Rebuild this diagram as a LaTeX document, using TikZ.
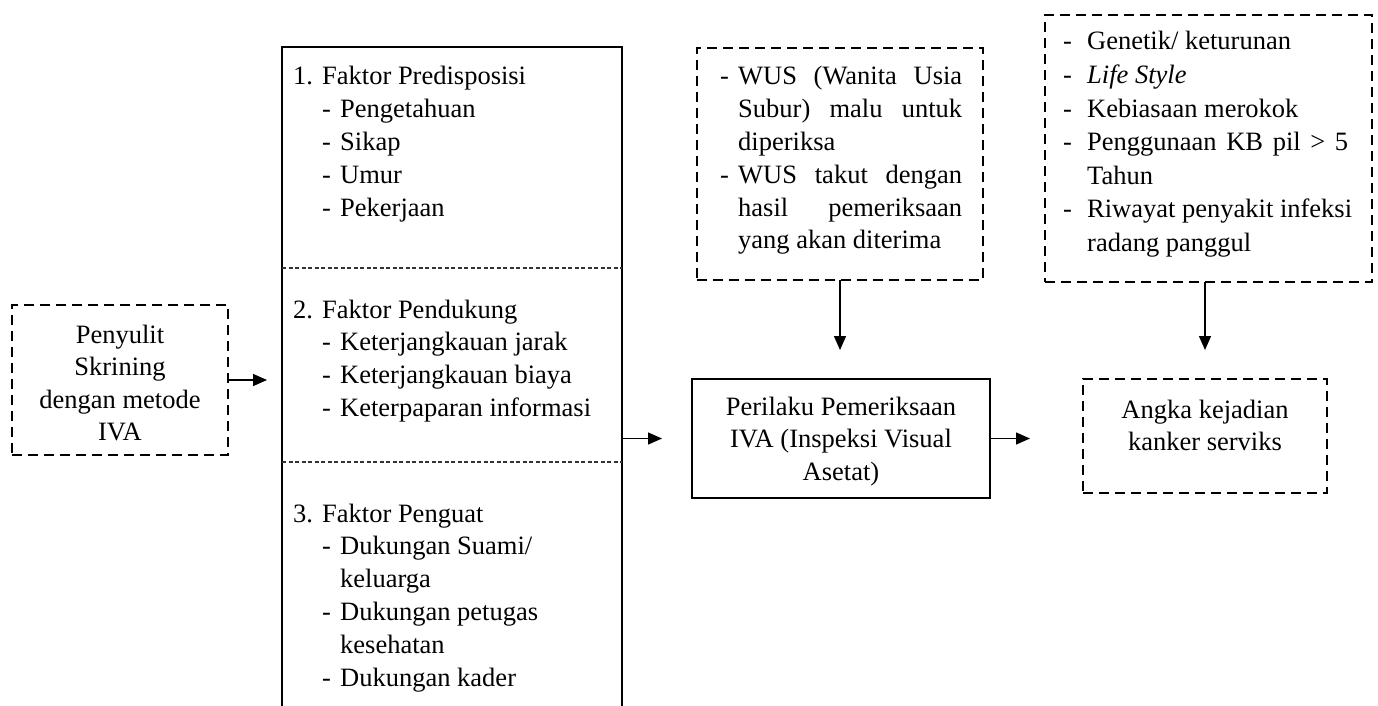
\documentclass[tikz,border=0pt]{standalone}
\usepackage{fontspec}
\setmainfont{Liberation Serif}
\usetikzlibrary{arrows.meta}
\newcommand\dgfont{\fontsize{26.5}{32.8}\selectfont}
\newcommand\dgfontb{\fontsize{26.5}{33.6}\selectfont}
\newcommand\dgfontc{\fontsize{26.5}{32.5}\selectfont}
\begin{document}
\begin{tikzpicture}[x=1pt,y=-1pt,
 dbox/.style={draw, line width=2.9pt, dash pattern=on 10pt off 6pt, inner sep=0pt, outer sep=0pt, anchor=north west},
 sbox/.style={draw, line width=2.9pt, inner sep=0pt, outer sep=0pt, anchor=north west},
 txt/.style={inner sep=0pt, anchor=base west, font=\dgfont},
 ctxt/.style={inner sep=0pt, anchor=base, font=\dgfontc},
 arr/.style={line width=1.4pt, -{Triangle[length=14pt,width=12pt]}},
 divider/.style={line width=1.1pt, dash pattern=on 4pt off 2.5pt, draw=black!80}]
\path[use as bounding box, fill=white] (0,0) rectangle (1378,706);

% boxes
\node[dbox, minimum width=216pt, minimum height=150pt] (lb) at (12,305) {};
\node[sbox, minimum width=340pt, minimum height=690pt] (big) at (282,47) {};
\node[dbox, minimum width=286pt, minimum height=232pt] (wus) at (697,48) {};
\node[sbox, minimum width=298pt, minimum height=119pt] (pr) at (692,379) {};
\node[dbox, minimum width=327pt, minimum height=267pt] (gen) at (1045,15) {};
\node[dbox, minimum width=244pt, minimum height=114pt] (ak) at (1083,379) {};

% dividers in the big box
\coordinate (d1) at (0,268);
\coordinate (d2) at (0,462);
\draw[divider] (big.west |- d1) -- (big.east |- d1);
\draw[divider] (big.west |- d2) -- (big.east |- d2);

% texts
\node[ctxt] (lbt) at (120,343) {\begin{tabular}[t]{@{}c@{}}Penyulit\\Skrining\\dengan metode\\IVA\end{tabular}};

\node[txt] (s1) at (293,85) {\begin{tabular}[t]{@{}p{29pt}@{}p{18pt}@{}l@{}}
1. & \multicolumn{2}{@{}l@{}}{Faktor Predisposisi}\\
 & - & Pengetahuan\\
 & - & Sikap\\
 & - & Umur\\
 & - & Pekerjaan
\end{tabular}};

\node[txt] (s2) at (293,318) {\begin{tabular}[t]{@{}p{29pt}@{}p{18pt}@{}l@{}}
2. & \multicolumn{2}{@{}l@{}}{Faktor Pendukung}\\
 & - & Keterjangkauan jarak\\
 & - & Keterjangkauan biaya\\
 & - & Keterpaparan informasi
\end{tabular}};

\node[txt] (s3) at (293,522) {\begin{tabular}[t]{@{}p{29pt}@{}p{18pt}@{}l@{}}
3. & \multicolumn{2}{@{}l@{}}{Faktor Penguat}\\
 & - & Dukungan Suami/\\
 & & keluarga\\
 & - & Dukungan petugas\\
 & & kesehatan\\
 & - & Dukungan kader
\end{tabular}};

\node[txt] (wust) at (720,85) {\begin{tabular}[t]{@{}p{18pt}@{}l@{}}
- & \makebox[224pt][s]{WUS (Wanita Usia}\\
 & \makebox[224pt][s]{Subur) malu untuk}\\
 & diperiksa\\
- & \makebox[224pt][s]{WUS takut dengan}\\
 & \makebox[224pt][s]{hasil pemeriksaan}\\
 & yang akan diterima
\end{tabular}};

\node[txt, font=\dgfontb] (gent) at (1063,50) {\begin{tabular}[t]{@{}p{24pt}@{}l@{}}
- & Genetik/ keturunan\\
- & \textit{Life Style}\\
- & Kebiasaan merokok\\
- & \makebox[261pt][s]{Penggunaan KB pil > 5}\\
 & Tahun\\
- & Riwayat penyakit infeksi\\
 & radang panggul
\end{tabular}};

\node[ctxt] (prt) at (841,415) {\begin{tabular}[t]{@{}c@{}}Perilaku Pemeriksaan\\IVA (Inspeksi Visual\\Asetat)\end{tabular}};

\node[ctxt] (akt) at (1205,418) {\begin{tabular}[t]{@{}c@{}}Angka kejadian\\kanker serviks\end{tabular}};

% connectors
\draw[arr, shorten >=15pt] (lb.east) -- (big.west |- lb.east);
\draw[arr, shorten >=30pt] (big.east |- pr.west) -- (pr.west);
\draw[arr, shorten >=53pt] (pr.east) -- (ak.west |- pr.east);
\draw[arr, shorten >=29pt] (wus.south) -- (wus.south |- pr.north);
\draw[arr, shorten >=29pt] (ak.north |- gen.south) -- (ak.north);
\end{tikzpicture}
\end{document}
